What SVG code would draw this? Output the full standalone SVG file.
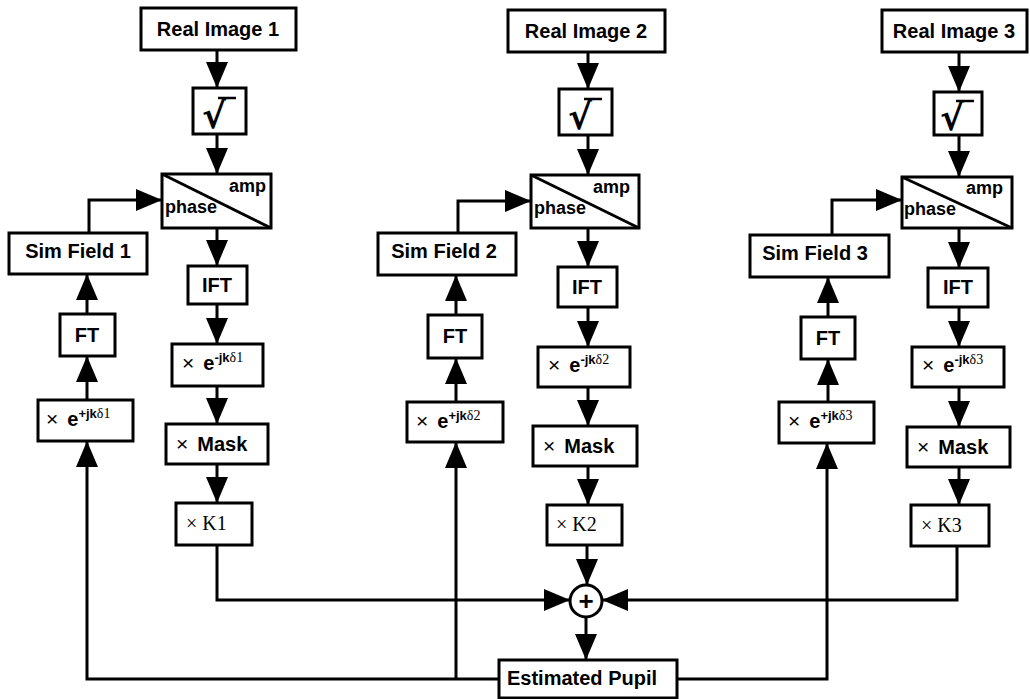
<svg xmlns="http://www.w3.org/2000/svg" width="1030" height="699" viewBox="0 0 1030 699">
<defs>
<marker id="ah" markerUnits="userSpaceOnUse" markerWidth="26" markerHeight="22" refX="26" refY="11" orient="auto">
<path d="M0,0 L26,11 L0,22 z" fill="#000"/>
</marker>
<style>
.box{fill:#fff;stroke:#000;stroke-width:3}
.lbl{font-family:"Liberation Sans",Arial,sans-serif;font-weight:bold;font-size:20px;fill:#000}
.sm{font-family:"Liberation Sans",Arial,sans-serif;font-weight:bold;font-size:18px;fill:#000}
.x{font-family:"Liberation Sans",Arial,sans-serif;font-weight:normal;font-size:21px}
.tm{font-family:"Liberation Serif","Times New Roman",serif;font-size:20px;fill:#000}
.sup{font-size:13px;font-weight:bold}
.supd{font-family:"Liberation Serif","Times New Roman",serif;font-size:14px;font-weight:normal}
.rad{font-family:"DejaVu Sans",sans-serif;font-weight:bold;font-size:36px;fill:#000}
.plus{font-family:"Liberation Sans",Arial,sans-serif;font-weight:bold;font-size:26px;fill:#000}
.cn{fill:none;stroke:#000;stroke-width:3}
.ar{fill:none;stroke:#000;stroke-width:3;marker-end:url(#ah)}
</style>
</defs>
<rect width="1030" height="699" fill="#fff"/>

<g id="connectors">
<!-- column 1 -->
<path class="ar" d="M217,50 V88"/>
<path class="ar" d="M217,134 V174"/>
<path class="ar" d="M217,228 V266"/>
<path class="ar" d="M217,304 V344"/>
<path class="ar" d="M217,386 V424"/>
<path class="ar" d="M217,464 V503"/>
<path class="ar" d="M217,545 V600 H570"/>
<path class="ar" d="M89,233 V200 H162"/>
<path class="ar" d="M87,400 V356"/>
<path class="ar" d="M87,314 V274"/>
<path class="ar" d="M499,679 H87 V441"/>
<!-- column 2 -->
<path class="ar" d="M588,52 V89"/>
<path class="ar" d="M588,135 V175"/>
<path class="ar" d="M588,228 V267"/>
<path class="ar" d="M588,307 V347"/>
<path class="ar" d="M588,387 V426"/>
<path class="ar" d="M588,466 V505"/>
<path class="ar" d="M587,545 V585"/>
<path class="ar" d="M586,617 V660"/>
<path class="ar" d="M458,233 V201 H531"/>
<path class="ar" d="M456,402 V358"/>
<path class="ar" d="M456,315 V275"/>
<path class="ar" d="M456,679 V442"/>
<!-- column 3 -->
<path class="ar" d="M959,52 V92"/>
<path class="ar" d="M959,135 V177"/>
<path class="ar" d="M959,228 V268"/>
<path class="ar" d="M959,307 V347"/>
<path class="ar" d="M959,387 V427"/>
<path class="ar" d="M959,467 V505"/>
<path class="ar" d="M957,546 V600 H602"/>
<path class="ar" d="M832,235 V200 H902"/>
<path class="ar" d="M828,402 V359"/>
<path class="ar" d="M828,317 V277"/>
<path class="ar" d="M677,679 H827 V443"/>
</g>

<!-- Column 1 -->
<g id="real1"><rect class="box" x="141" y="8" width="155" height="42"/><text class="lbl" x="218" y="36" text-anchor="middle">Real Image 1</text></g>
<g id="sqrt1"><rect class="box" x="193" y="88" width="53" height="46"/><text class="rad" x="202" y="128">√</text><line x1="218" y1="98" x2="236" y2="98" stroke="#000" stroke-width="2.5"/></g>
<g id="ap1"><rect class="box" x="162" y="174" width="109" height="54"/><line x1="162" y1="174" x2="271" y2="228" stroke="#000" stroke-width="3"/><text class="sm" x="266" y="192" text-anchor="end">amp</text><text class="sm" x="165" y="213">phase</text></g>
<g id="sim1"><rect class="box" x="9" y="233" width="138" height="41"/><text class="lbl" x="78" y="258" text-anchor="middle">Sim Field 1</text></g>
<g id="ft1"><rect class="box" x="60" y="314" width="55" height="42"/><text class="lbl" x="87" y="342" text-anchor="middle">FT</text></g>
<g id="ep1"><rect class="box" x="38" y="400" width="95" height="41"/><text class="lbl" x="46" y="426"><tspan class="x">×</tspan><tspan dx="9">e</tspan><tspan class="sup" dy="-8">+jk</tspan><tspan class="supd">δ1</tspan></text></g>
<g id="ift1"><rect class="box" x="188" y="266" width="59" height="38"/><text class="lbl" x="217" y="292" text-anchor="middle">IFT</text></g>
<g id="em1"><rect class="box" x="172" y="344" width="91" height="42"/><text class="lbl" x="182" y="370"><tspan class="x">×</tspan><tspan dx="9">e</tspan><tspan class="sup" dy="-8">-jk</tspan><tspan class="supd">δ1</tspan></text></g>
<g id="mask1"><rect class="box" x="166" y="424" width="102" height="40"/><text class="lbl" x="176" y="451"><tspan class="x">×</tspan><tspan dx="9">Mask</tspan></text></g>
<g id="k1"><rect class="box" x="176" y="503" width="76" height="42"/><text class="tm" x="186" y="530">× K1</text></g>

<!-- Column 2 -->
<g id="real2"><rect class="box" x="508" y="10" width="157" height="42"/><text class="lbl" x="586" y="38" text-anchor="middle">Real Image 2</text></g>
<g id="sqrt2"><rect class="box" x="559" y="89" width="53" height="46"/><text class="rad" x="568" y="129">√</text><line x1="584" y1="99" x2="602" y2="99" stroke="#000" stroke-width="2.5"/></g>
<g id="ap2"><rect class="box" x="531" y="175" width="108" height="53"/><line x1="531" y1="175" x2="639" y2="228" stroke="#000" stroke-width="3"/><text class="sm" x="630" y="193" text-anchor="end">amp</text><text class="sm" x="534" y="214">phase</text></g>
<g id="sim2"><rect class="box" x="378" y="233" width="138" height="42"/><text class="lbl" x="444" y="258" text-anchor="middle">Sim Field 2</text></g>
<g id="ft2"><rect class="box" x="428" y="315" width="54" height="43"/><text class="lbl" x="455" y="343" text-anchor="middle">FT</text></g>
<g id="ep2"><rect class="box" x="407" y="402" width="96" height="40"/><text class="lbl" x="416" y="428"><tspan class="x">×</tspan><tspan dx="9">e</tspan><tspan class="sup" dy="-8">+jk</tspan><tspan class="supd">δ2</tspan></text></g>
<g id="ift2"><rect class="box" x="558" y="267" width="59" height="40"/><text class="lbl" x="587" y="294" text-anchor="middle">IFT</text></g>
<g id="em2"><rect class="box" x="538" y="347" width="92" height="40"/><text class="lbl" x="548" y="372"><tspan class="x">×</tspan><tspan dx="9">e</tspan><tspan class="sup" dy="-8">-jk</tspan><tspan class="supd">δ2</tspan></text></g>
<g id="mask2"><rect class="box" x="533" y="426" width="104" height="40"/><text class="lbl" x="543" y="453"><tspan class="x">×</tspan><tspan dx="9">Mask</tspan></text></g>
<g id="k2"><rect class="box" x="547" y="505" width="75" height="40"/><text class="tm" x="556" y="531">× K2</text></g>

<!-- Column 3 -->
<g id="real3"><rect class="box" x="882" y="10" width="145" height="42"/><text class="lbl" x="954" y="38" text-anchor="middle">Real Image 3</text></g>
<g id="sqrt3"><rect class="box" x="934" y="92" width="48" height="43"/><text class="rad" x="940" y="130">√</text><line x1="956" y1="101" x2="974" y2="101" stroke="#000" stroke-width="2.5"/></g>
<g id="ap3"><rect class="box" x="902" y="177" width="110" height="51"/><line x1="902" y1="177" x2="1012" y2="228" stroke="#000" stroke-width="3"/><text class="sm" x="1003" y="194" text-anchor="end">amp</text><text class="sm" x="904" y="215">phase</text></g>
<g id="sim3"><rect class="box" x="750" y="235" width="139" height="42"/><text class="lbl" x="815" y="260" text-anchor="middle">Sim Field 3</text></g>
<g id="ft3"><rect class="box" x="801" y="317" width="54" height="42"/><text class="lbl" x="828" y="345" text-anchor="middle">FT</text></g>
<g id="ep3"><rect class="box" x="779" y="402" width="95" height="41"/><text class="lbl" x="788" y="428"><tspan class="x">×</tspan><tspan dx="9">e</tspan><tspan class="sup" dy="-8">+jk</tspan><tspan class="supd">δ3</tspan></text></g>
<g id="ift3"><rect class="box" x="928" y="268" width="60" height="39"/><text class="lbl" x="958" y="294" text-anchor="middle">IFT</text></g>
<g id="em3"><rect class="box" x="912" y="347" width="92" height="40"/><text class="lbl" x="922" y="372"><tspan class="x">×</tspan><tspan dx="9">e</tspan><tspan class="sup" dy="-8">-jk</tspan><tspan class="supd">δ3</tspan></text></g>
<g id="mask3"><rect class="box" x="907" y="427" width="103" height="40"/><text class="lbl" x="917" y="454"><tspan class="x">×</tspan><tspan dx="9">Mask</tspan></text></g>
<g id="k3"><rect class="box" x="911" y="505" width="78" height="41"/><text class="tm" x="921" y="532">× K3</text></g>

<!-- Sum and output -->
<g id="sum"><circle cx="586" cy="601" r="16" fill="#fff" stroke="#000" stroke-width="3"/><text class="plus" x="586" y="610" text-anchor="middle">+</text></g>
<g id="pupil"><rect class="box" x="499" y="660" width="178" height="38"/><text class="lbl" x="582" y="685" text-anchor="middle">Estimated Pupil</text></g>
</svg>
